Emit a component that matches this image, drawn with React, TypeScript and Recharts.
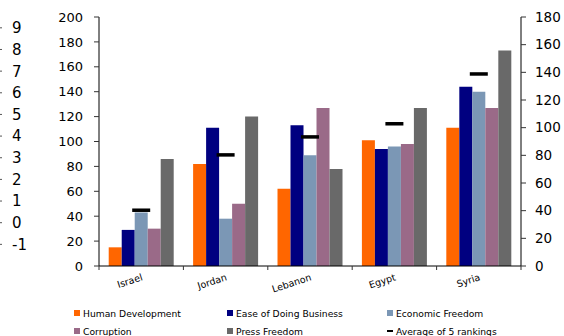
import React from "react";
import { Bar, ComposedChart, Legend, Line, XAxis, YAxis } from "recharts";

const countries = ["Israel", "Jordan", "Lebanon", "Egypt", "Syria"];
const humanDevelopment = [15, 82, 62, 101, 111];
const easeOfDoingBusiness = [29, 111, 113, 94, 144];
const economicFreedom = [43, 38, 89, 96, 140];
const corruption = [30, 50, 127, 98, 127];
const pressFreedom = [86, 120, 78, 127, 173];
// plotted against the right-hand axis
const averageRanking = [40.5, 80.5, 93.5, 103, 139];

const leftTicks = [0, 20, 40, 60, 80, 100, 120, 140, 160, 180, 200];
const rightTicks = [0, 20, 40, 60, 80, 100, 120, 140, 160, 180];
const indexTicks = [-1, 0, 1, 2, 3, 4, 5, 6, 7, 8, 9];

const seriesNames = [
	"Human Development",
	"Ease of Doing Business",
	"Economic Freedom",
	"Corruption",
	"Press Freedom",
	"Average of 5 rankings",
];

const FONT = "'DejaVu Sans', Verdana, sans-serif";
const CHART_W = 587;
const CHART_H = 342;
const SHIFT = 23;
const INDEX_AXIS_W = 20;
const LEFT_AXIS_W = 102;
const RIGHT_AXIS_W = 43;
const PLOT_W = CHART_W - INDEX_AXIS_W - LEFT_AXIS_W - RIGHT_AXIS_W;
const BAND = PLOT_W / countries.length;
const LEGEND_COLS = [74 + SHIFT, 227 + SHIFT, 387 + SHIFT];

const chartData = countries.map((country, i) => ({
	country,
	hd: humanDevelopment[i],
	edb: easeOfDoingBusiness[i],
	ef: economicFreedom[i],
	cor: corruption[i],
	pf: pressFreedom[i],
	avg: averageRanking[i],
}));

function CountryTick(props: any) {
	const { x, y, payload, index } = props;
	return (
		<g>
			<line x1={x - BAND / 2} x2={x - BAND / 2} y1={y} y2={y + 4} stroke="#333" />
			{index === countries.length - 1 && (
				<line x1={x + BAND / 2} x2={x + BAND / 2} y1={y} y2={y + 4} stroke="#333" />
			)}
			<text
				transform={`translate(${x + 2},${y + 14}) rotate(-18)`}
				textAnchor="end"
				fontSize={9.5}
				fill="#000"
			>
				{payload.value}
			</text>
		</g>
	);
}

function IndexTick(props: any) {
	const { x, y, payload } = props;
	return (
		<g>
			<line x1={x} x2={x + 5} y1={y} y2={y} stroke="#555" />
			<text x={x + 15} y={y} dy="0.36em" textAnchor="start" fontSize={15} fill="#000">
				{String(payload.value)}
			</text>
		</g>
	);
}

function AverageMark(props: any) {
	const { cx, cy } = props;
	if (cx == null || cy == null) return null;
	return <rect x={cx - 9} y={cy - 1.5} width={18} height={3.5} fill="#000" />;
}

function RankingLegend({ payload }: { payload?: any[] }) {
	const items = [...(payload ?? [])].sort(
		(a, b) => seriesNames.indexOf(a.value) - seriesNames.indexOf(b.value),
	);
	return (
		<div style={{ position: "relative", height: 46, fontFamily: FONT, fontSize: 9.2, color: "#000" }}>
			{items.map((item, i) => {
				const isAvg = item.dataKey === "avg";
				return (
					<div
						key={item.value}
						style={{
							position: "absolute",
							left: LEGEND_COLS[i % 3],
							top: 8 + Math.floor(i / 3) * 18,
							height: 18,
							display: "flex",
							alignItems: "center",
							whiteSpace: "nowrap",
						}}
					>
						<span
							style={{
								display: "inline-block",
								width: 6,
								height: isAvg ? 1.5 : 6,
								background: isAvg ? "#000" : item.color,
								marginRight: 3,
							}}
						/>
						{item.value}
					</div>
				);
			})}
		</div>
	);
}

export default function App() {
	return (
		<div style={{ position: "fixed", left: 0, top: 0, width: 564, height: 336, overflow: "hidden", background: "#fff" }}>
			<div style={{ position: "absolute", left: -SHIFT, top: 0 }}>
				<ComposedChart
					width={CHART_W}
					height={CHART_H}
					data={chartData}
					margin={{ top: 17, right: 0, bottom: 0, left: 0 }}
					barCategoryGap="11.5%"
					barGap={0}
					style={{ fontFamily: FONT }}
				>
					<XAxis
						dataKey="country"
						xAxisId="cat"
						height={30}
						interval={0}
						tickSize={0}
						tickMargin={0}
						tickLine={false}
						axisLine={{ stroke: "#000" }}
						tick={<CountryTick />}
					/>
					<YAxis
						yAxisId="left"
						orientation="left"
						width={LEFT_AXIS_W}
						domain={[0, 200]}
						ticks={leftTicks}
						interval={0}
						tickSize={5}
						tickMargin={11}
						axisLine={{ stroke: "#000" }}
						tickLine={{ stroke: "#333" }}
						tick={{ fontSize: 13, fill: "#000" }}
					/>
					<YAxis
						yAxisId="rankIndex"
						orientation="left"
						type="number"
						width={INDEX_AXIS_W}
						domain={[-2, 9.5]}
						allowDataOverflow
						ticks={indexTicks}
						interval={0}
						tickSize={0}
						tickMargin={0}
						axisLine={false}
						tickLine={false}
						tick={<IndexTick />}
					/>
					<YAxis
						yAxisId="right"
						orientation="right"
						width={RIGHT_AXIS_W}
						domain={[0, 180]}
						ticks={rightTicks}
						interval={0}
						tickSize={5}
						tickMargin={9}
						axisLine={{ stroke: "#000" }}
						tickLine={{ stroke: "#333" }}
						tick={{ fontSize: 13.5, fill: "#000" }}
					/>
					<Legend verticalAlign="bottom" content={<RankingLegend />} />
					<Bar xAxisId="cat" yAxisId="left" dataKey="hd" name={seriesNames[0]} fill="#FF6600" isAnimationActive={false} />
					<Bar xAxisId="cat" yAxisId="left" dataKey="edb" name={seriesNames[1]} fill="#000080" isAnimationActive={false} />
					<Bar xAxisId="cat" yAxisId="left" dataKey="ef" name={seriesNames[2]} fill="#7B97B5" isAnimationActive={false} />
					<Bar xAxisId="cat" yAxisId="left" dataKey="cor" name={seriesNames[3]} fill="#9A6A88" isAnimationActive={false} />
					<Bar xAxisId="cat" yAxisId="left" dataKey="pf" name={seriesNames[4]} fill="#696969" isAnimationActive={false} />
					<Line
						xAxisId="cat"
						yAxisId="right"
						dataKey="avg"
						name={seriesNames[5]}
						stroke="none"
						dot={<AverageMark />}
						activeDot={false}
						isAnimationActive={false}
					/>
				</ComposedChart>
			</div>
		</div>
	);
}
